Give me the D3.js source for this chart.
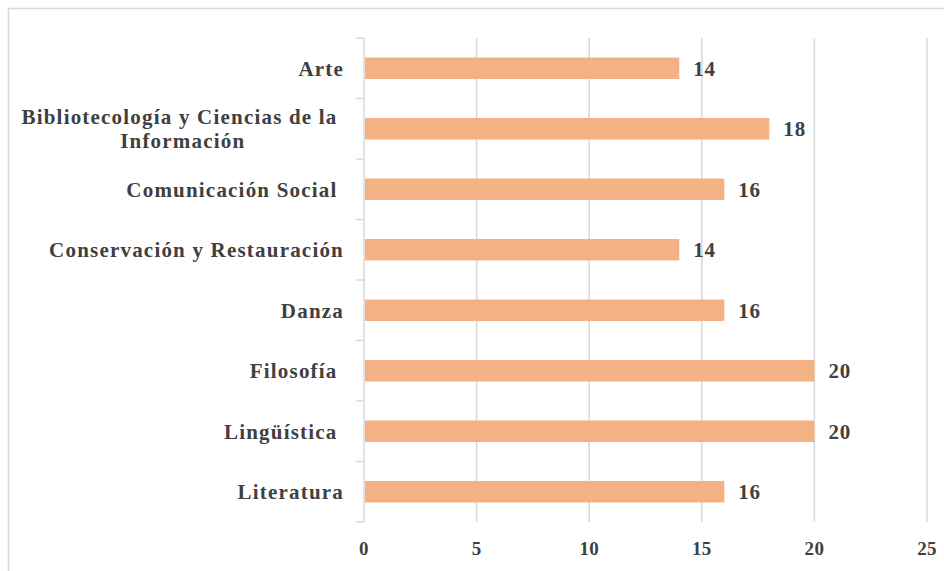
<!DOCTYPE html>
<html><head><meta charset="utf-8">
<script src="https://cdn.jsdelivr.net/npm/d3@7"></script>
<style>
body{margin:0;background:#fff;}
svg text{font-family:"Liberation Serif","Times New Roman",serif;font-weight:bold;fill:#404040;white-space:pre;}
</style></head>
<body><svg id="c" width="944" height="571"></svg>
<script>
const categories = ["Arte","Bibliotecología y Ciencias de la |Información","Comunicación Social ","Conservación y Restauración","Danza","Filosofía ","Lingüística ","Literatura"];
const values = [14,18,16,14,16,20,20,16];
const xTicks = [0,5,10,15,20,25];

const svg = d3.select("#c");
svg.append("rect").attr("x",8.5).attr("y",8.5).attr("width",1000).attr("height",1000)
  .attr("fill","#fff").attr("stroke","#d9d9d9").attr("stroke-width",1.5);

const x = d3.scaleLinear().domain([0,25]).range([364,927]);
const y = d3.scaleBand().domain(categories).range([38,522]).paddingInner(0.645).paddingOuter(0.3225);
const yb = d3.scaleBand().domain(categories).range([38,522]);

// gridlines
svg.append("g").selectAll("line").data(xTicks.slice(1)).join("line")
  .attr("x1",d=>x(d)).attr("x2",d=>x(d)).attr("y1",38).attr("y2",522)
  .attr("stroke","#d9d9d9").attr("stroke-width",1.5);

// y axis line & ticks
svg.append("line").attr("x1",x(0)).attr("x2",x(0)).attr("y1",38).attr("y2",522)
  .attr("stroke","#d9d9d9").attr("stroke-width",1.5);
const bounds = categories.map(c=>yb(c)).concat([522]);
svg.append("g").selectAll("line").data(bounds).join("line")
  .attr("x1",x(0)-8).attr("x2",x(0)).attr("y1",d=>d).attr("y2",d=>d)
  .attr("stroke","#d9d9d9").attr("stroke-width",1.5);

// bars
svg.append("g").selectAll("rect").data(categories).join("rect")
  .attr("x",x(0)+1).attr("y",d=>y(d)).attr("height",y.bandwidth())
  .attr("width",(d,i)=>x(values[i])-x(0)-1).attr("fill","#F4B183");

// value labels
svg.append("g").selectAll("text").data(categories).join("text")
  .attr("x",(d,i)=>x(values[i])+14).attr("y",d=>yb(d)+yb.bandwidth()/2)
  .attr("dy","0.35em").attr("font-size",21).attr("letter-spacing",0.8).text((d,i)=>values[i]);

// category labels
const labelRight = 344;
const fs = 21, ls = 1.2;
const lg = svg.append("g");
categories.forEach(c=>{
  const lines = c.split("|");
  const cy = yb(c)+yb.bandwidth()/2;
  if(lines.length===1){
    lg.append("text").attr("x",labelRight).attr("y",cy).attr("dy","0.35em")
      .attr("text-anchor","end").attr("font-size",fs).attr("letter-spacing",ls).text(lines[0]);
  } else {
    const t1 = lg.append("text").attr("font-size",fs).attr("letter-spacing",ls).text(lines[0]);
    const w = t1.node().getComputedTextLength();
    const center = labelRight - w/2;
    const lh = 24;
    t1.attr("x",center).attr("text-anchor","middle").attr("y",cy - lh/2).attr("dy","0.35em");
    lg.append("text").attr("font-size",fs).attr("letter-spacing",ls).attr("x",center).attr("text-anchor","middle")
      .attr("y",cy + lh/2).attr("dy","0.35em").text(lines[1]);
  }
});

// x tick labels
svg.append("g").selectAll("text").data(xTicks).join("text")
  .attr("x",d=>x(d)).attr("y",548).attr("dy","0.35em").attr("text-anchor","middle")
  .attr("font-size",19).attr("letter-spacing",0.3).text(d=>d);
</script></body></html>
